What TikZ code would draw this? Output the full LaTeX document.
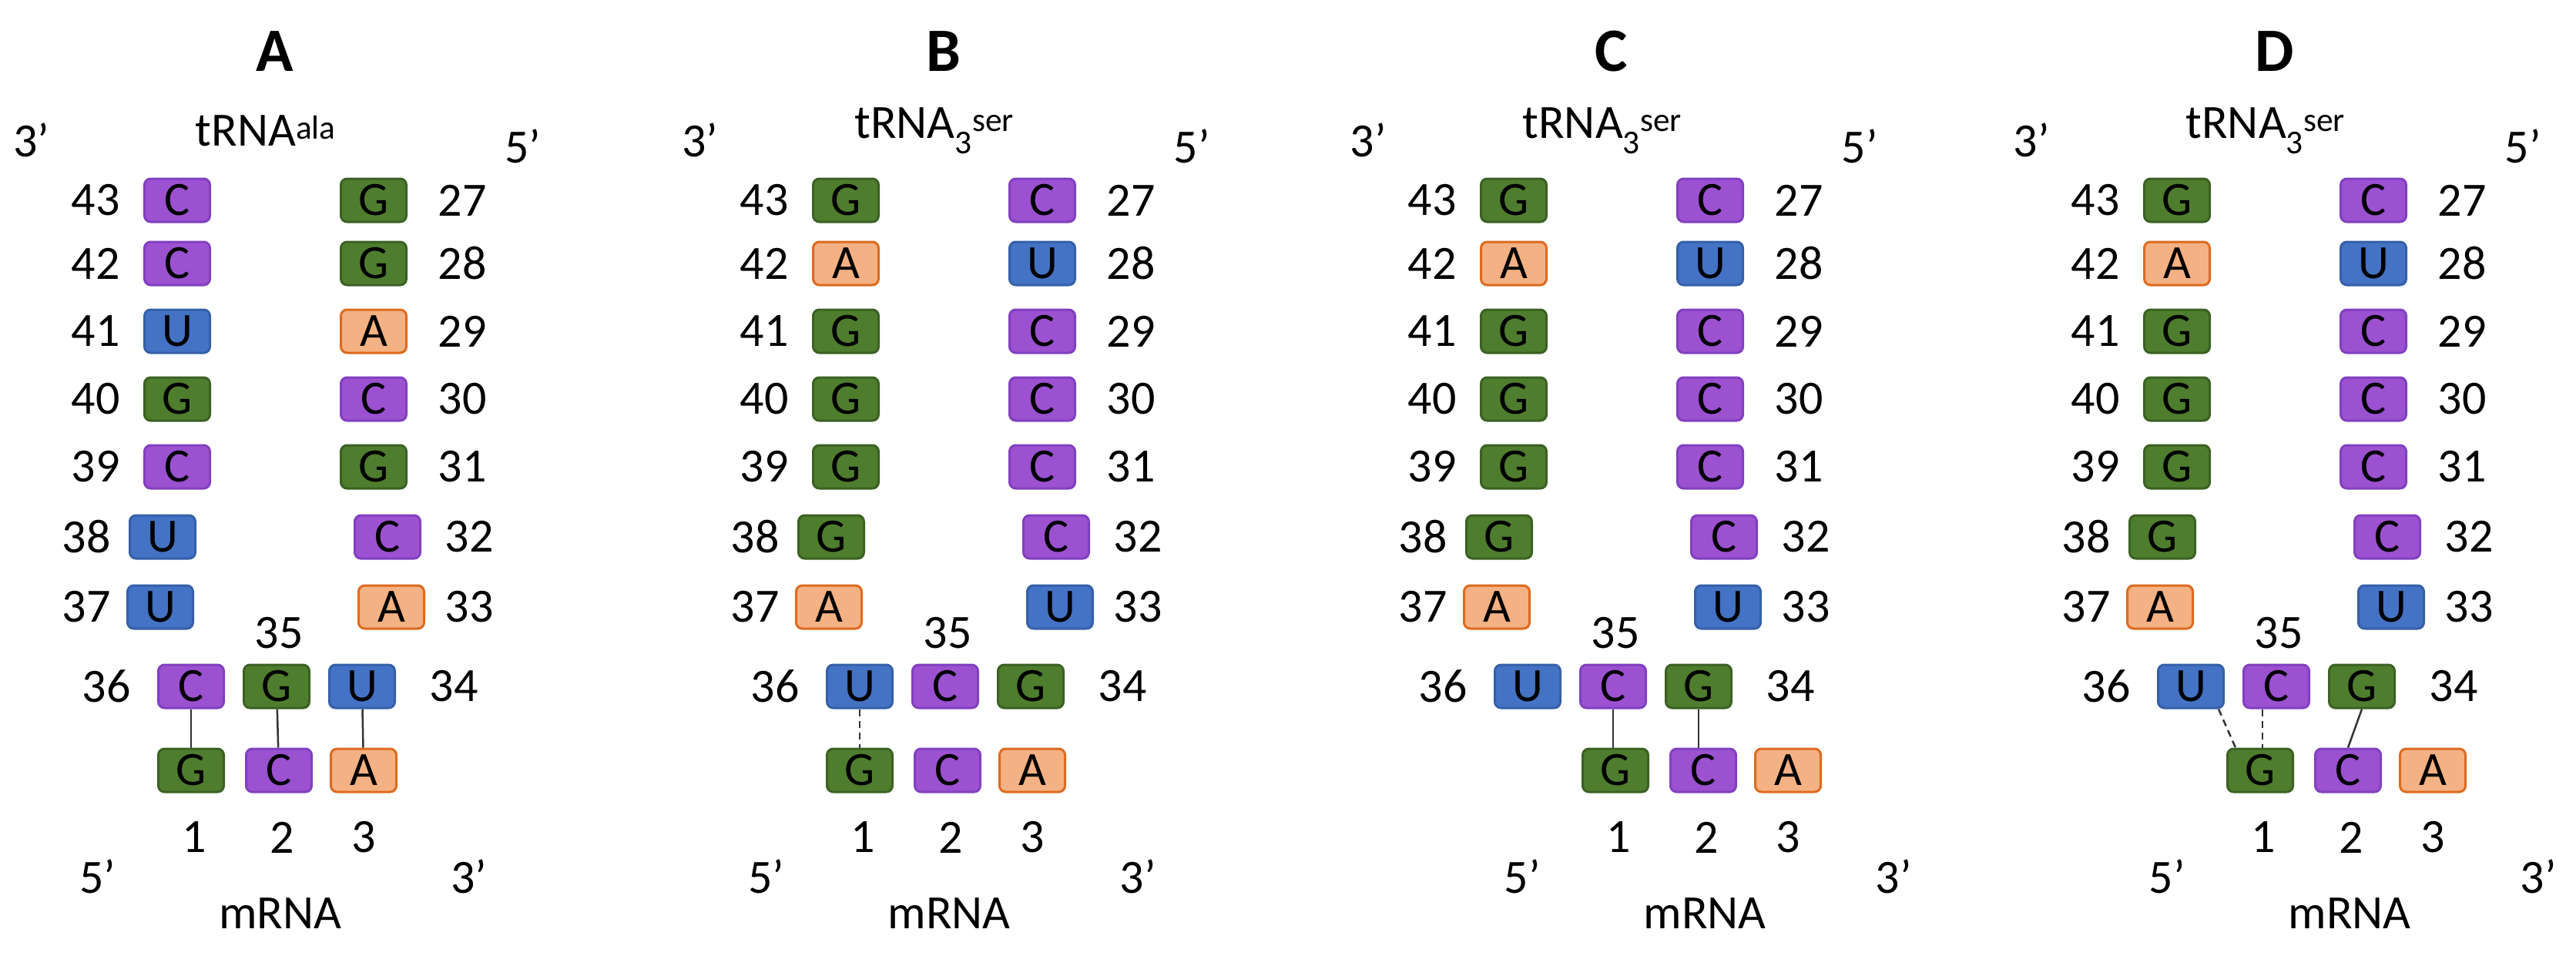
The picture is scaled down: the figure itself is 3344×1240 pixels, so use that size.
\documentclass[tikz,border=0pt]{standalone}
\usepackage{fontspec}
\setmainfont{Carlito}
\definecolor{pf}{HTML}{9B51D0}\definecolor{pd}{HTML}{8140C0}
\definecolor{gf}{HTML}{4E7D2E}\definecolor{gd}{HTML}{3B6123}
\definecolor{bf}{HTML}{4472C4}\definecolor{bd}{HTML}{3560A8}
\definecolor{of}{HTML}{F4B183}\definecolor{od}{HTML}{DD6A1E}
\newcommand{\bigf}{\fontsize{62}{70}\selectfont}
\newcommand{\ttlf}{\fontsize{80}{90}\selectfont\bfseries}
\tikzset{
  nb/.style={rounded corners=8pt, minimum width=85pt, minimum height=56pt, inner sep=0pt, line width=3pt, font=\bigf},
  nC/.style={nb, fill=pf, draw=pd}, nG/.style={nb, fill=gf, draw=gd},
  nU/.style={nb, fill=bf, draw=bd}, nA/.style={nb, fill=of, draw=od},
  lbl/.style={font=\bigf, inner sep=0pt},
  pair/.style={line width=2.5pt, draw=black!80},
  wob/.style={pair, dash pattern=on 9pt off 6pt}
}
% \stem{prefix}{letters 43..37}{letters 27..33}
\newcommand{\stem}[3]{%
  \foreach \n/\y/\bx/\lx [count=\i] in {43/260/230/124,42/342/230/124,41/430/230/124,40/518/230/124,39/606/230/124,38/697/211/112,37/788/208/112}{
    \pgfmathsetmacro{\L}{{#2}[\i-1]}
    \node[n\L] (#1l\n) at (\bx,\y) {\L};
    \node[lbl] (#1ln\n) at (\lx,\y) {\n};
  }
  \foreach \n/\y/\bx/\lx [count=\i] in {27/260/485/600,28/342/485/600,29/430/485/600,30/518/485/600,31/606/485/600,32/697/503/609,33/788/508/609}{
    \pgfmathsetmacro{\L}{{#3}[\i-1]}
    \node[n\L] (#1r\n) at (\bx,\y) {\L};
    \node[lbl] (#1rn\n) at (\lx,\y) {\n};
  }
}
% \codon{prefix}{a36}{a35}{a34}{m1}{m2}{m3}{mrna shift}
\newcommand{\codon}[8]{%
  \node[lbl] (#1n36) at (138,891) {36};
  \node[lbl] (#1n35) at (362,822) {35};
  \node[lbl] (#1n34) at (589,891) {34};
  \node[n#2] (#1a36) at (248,891) {#2};
  \node[n#3] (#1a35) at (359,891) {#3};
  \node[n#4] (#1a34) at (470,891) {#4};
  \begin{scope}[xshift=#8pt]
  \node[n#5] (#1m1) at (248,1000) {#5};
  \node[n#6] (#1m2) at (362,1000) {#6};
  \node[n#7] (#1m3) at (472,1000) {#7};
  \node[lbl] (#1k1) at (252,1087) {1};
  \node[lbl] (#1k2) at (366,1087) {2};
  \node[lbl] (#1k3) at (472,1087) {3};
  \node[lbl] (#1f5) at (127,1138) {5’};
  \node[lbl] (#1f3) at (609,1138) {3’};
  \node[lbl] (#1mr) at (364,1186) {mRNA};
  \end{scope}
}
\newcommand{\head}[3]{%
  \node[font=\ttlf, inner sep=0pt] (#1t) at (357,67) {#2};
  \node[lbl] (#1h3) at (41,182) {3’};
  \node[lbl] (#1h5) at (679,190) {5’};
  \node[lbl] (#1tr) at (345,170) {#3};
}
\begin{document}
\begin{tikzpicture}[x=1pt,y=-1pt]
\useasboundingbox (0,0) rectangle (3344,1240);
% A
\begin{scope}
  \head{A}{A}{tRNA\textsuperscript{ala}}
  \stem{A}{"C","C","U","G","C","U","U"}{"G","G","A","C","G","C","A"}
  \codon{A}{C}{G}{U}{G}{C}{A}{0}
  \draw[pair] (Aa36) -- (Am1);
  \draw[pair] (Aa35) -- (Am2);
  \draw[pair] (Aa34) -- (Am3);
\end{scope}
% B
\begin{scope}[xshift=868pt]
  \head{B}{B}{tRNA\textsubscript{3}\textsuperscript{ser}}
  \stem{B}{"G","A","G","G","G","G","A"}{"C","U","C","C","C","C","U"}
  \codon{B}{U}{C}{G}{G}{C}{A}{0}
  \draw[wob] (Ba36) -- (Bm1);
\end{scope}
% C
\begin{scope}[xshift=1735pt]
  \head{C}{C}{tRNA\textsubscript{3}\textsuperscript{ser}}
  \stem{C}{"G","A","G","G","G","G","A"}{"C","U","C","C","C","C","U"}
  \codon{C}{U}{C}{G}{G}{C}{A}{114}
  \draw[pair] (Ca35.south) -- (Ca35.south |- Cm1.north);
  \draw[pair] (Ca34.south) -- (Ca34.south |- Cm2.north);
\end{scope}
% D
\begin{scope}[xshift=2596pt]
  \head{D}{D}{tRNA\textsubscript{3}\textsuperscript{ser}}
  \stem{D}{"G","A","G","G","G","G","A"}{"C","U","C","C","C","C","U"}
  \codon{D}{U}{C}{G}{G}{C}{A}{90}
  \draw[wob] ([xshift=-8pt]Da36.south east) -- ([xshift=12pt]Dm1.north west);
  \draw[wob] ([xshift=-18pt]Da35.south) -- ([xshift=-18pt]Da35.south |- Dm1.north);
  \draw[pair] (Da34.south) -- (Dm2.north);
\end{scope}
\end{tikzpicture}
\end{document}
